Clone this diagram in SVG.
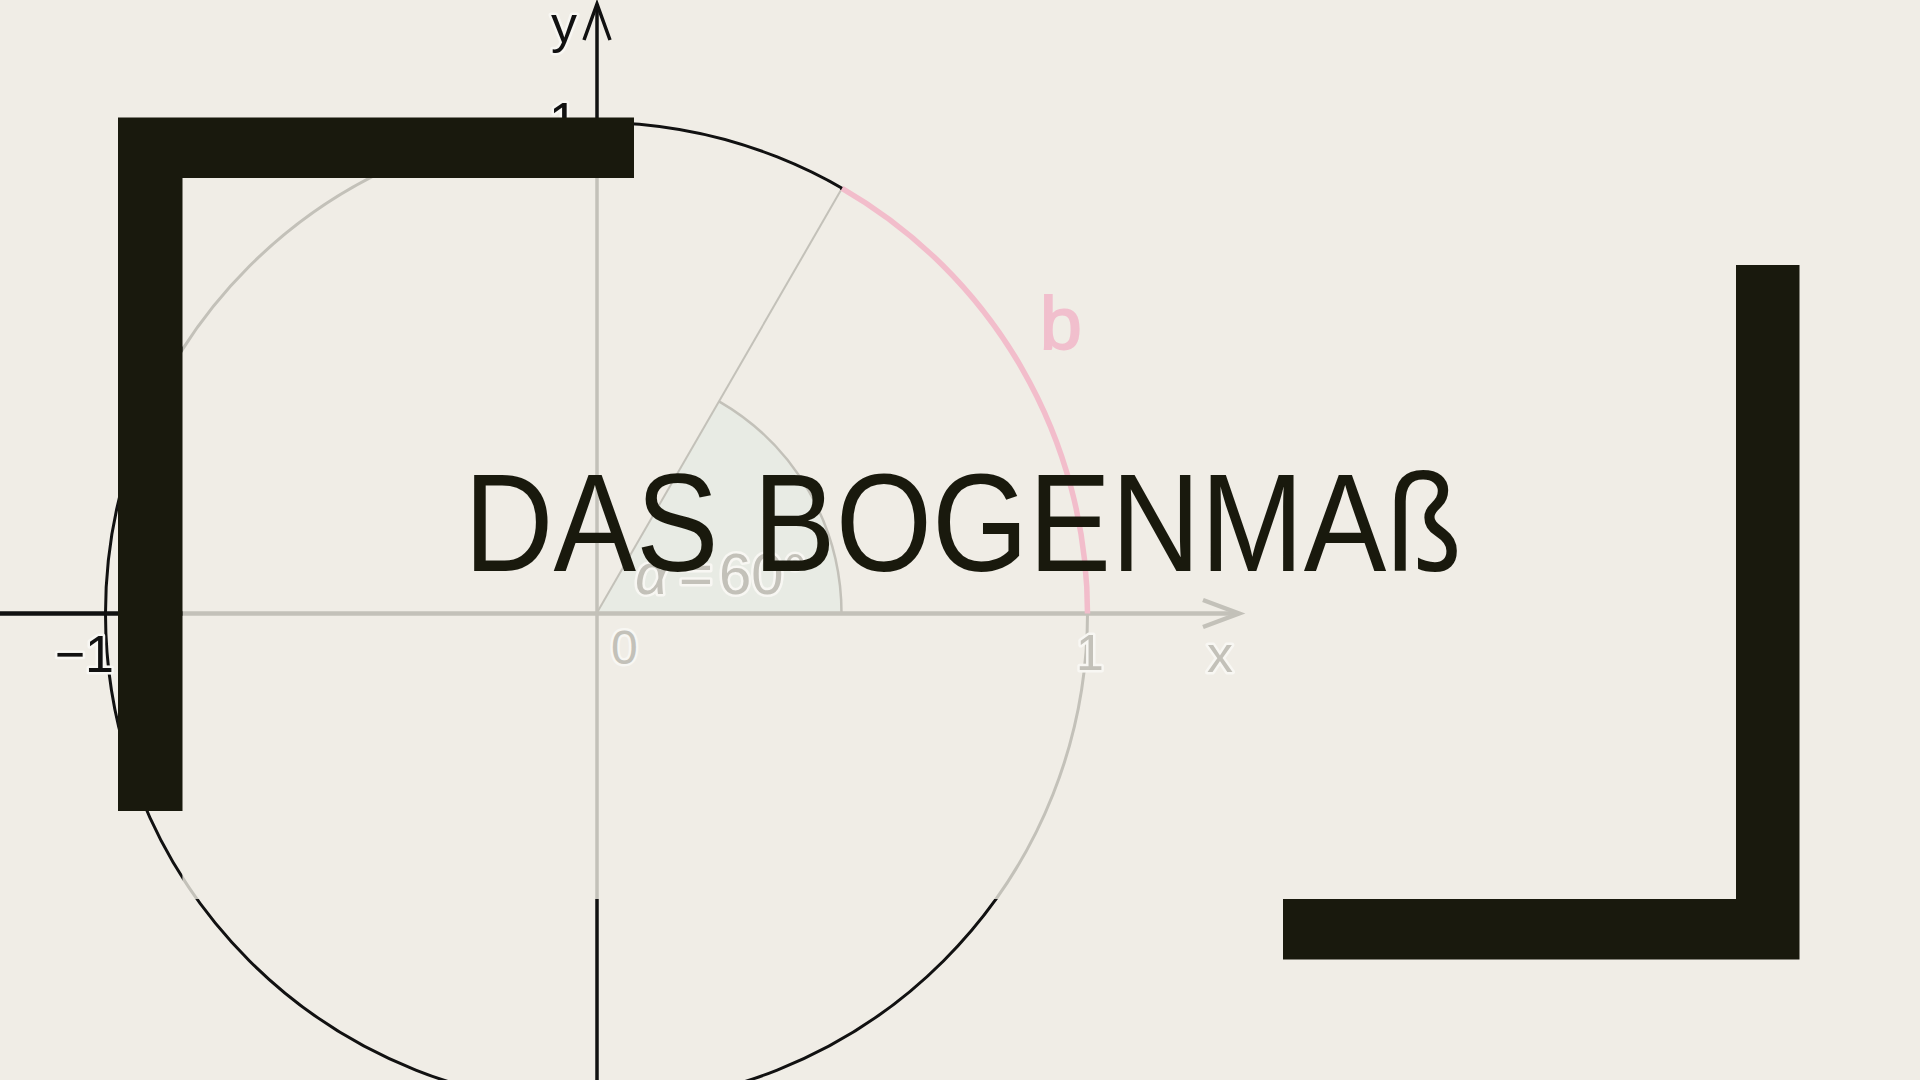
<svg xmlns="http://www.w3.org/2000/svg" xmlns:xlink="http://www.w3.org/1999/xlink" width="1920" height="1080" viewBox="0 0 1920 1080">
  <style>
    .ln { fill: none; stroke: currentColor; stroke-linecap: butt; stroke-linejoin: miter; }
    .lbl { font-family: "Liberation Sans", Arial, sans-serif; fill: currentColor; stroke: #f8f7f3; stroke-width: 5; paint-order: stroke; stroke-linejoin: round; }
    .bracket { fill: #19190d; }
    .title { font-family: "Liberation Sans", Arial, sans-serif; fill: #19190d; }
  </style>
  <defs>
    <clipPath id="outside">
      <path clip-rule="evenodd" d="M0,0 H1920 V1080 H0 Z M182.5,178 H634 V190 H846 V178 H1736 V899 H182.5 Z"/>
    </clipPath>
    <clipPath id="inside">
      <path d="M182.5,178 H634 V190 H846 V178 H1736 V899 H182.5 Z"/>
    </clipPath>
    <g id="diagram">
      <circle class="ln" cx="596.5" cy="613.5" r="491" stroke-width="3"/>
      <line class="ln" x1="596.5" y1="613.5" x2="842" y2="188.3" stroke-width="2"/>
      <path class="ln" d="M841.5,613.5 A245 245 0 0 0 719,401.3" stroke-width="2.5"/>
      <line class="ln" x1="0" y1="613.5" x2="1236" y2="613.5" stroke-width="4.5"/>
      <polyline class="ln" points="1203,600 1239,613.5 1203,627" stroke-width="4.5"/>
      <line class="ln" x1="597" y1="1080" x2="597" y2="4" stroke-width="3.5"/>
      <polyline class="ln" points="584,40 597,4 610,40" stroke-width="3.5"/>
      <text class="lbl" x="551" y="42" font-size="52">y</text>
      <text class="lbl" x="549" y="139" font-size="52">1</text>
      <text class="lbl" x="1207" y="672" font-size="52">x</text>
      <text class="lbl" x="1076" y="670" font-size="50">1</text>
      <text class="lbl" x="611" y="664" font-size="48">0</text>
      <text class="lbl" x="114" y="672" font-size="52" text-anchor="end">−1</text>
      <text class="lbl" y="594" font-size="58"><tspan x="635" font-style="italic">α</tspan><tspan x="679">=</tspan><tspan x="719">60°</tspan></text>
    </g>
  </defs>

  <rect id="background" x="0" y="0" width="1920" height="1080" fill="#f0ede6"/>

  <g id="unit-circle">
    <path id="angle-sector" d="M596.5,613.5 L841.5,613.5 A245 245 0 0 0 719,401.3 Z" fill="#e8ebe4"/>
    <use xlink:href="#diagram" href="#diagram" clip-path="url(#inside)" style="color:#c3c1b9"/>
    <use xlink:href="#diagram" href="#diagram" clip-path="url(#outside)" style="color:#111111"/>
  </g>

  <g id="connectors">
    <path id="arc-b" d="M842,188.3 A491 491 0 0 1 1087.5,613.5" fill="none" stroke="#f2bdcb" stroke-width="5.5"/>
  </g>

  <g id="label-b">
    <text x="1040" y="349" font-family="Liberation Sans, Arial, sans-serif" font-size="75" fill="#f1bfcd" stroke="#f1bfcd" stroke-width="2">b</text>
  </g>

  <g id="bracket-left">
    <path class="bracket" d="M118,117.5 H634 V178 H182.5 V811 H118 Z"/>
  </g>
  <g id="bracket-right">
    <path class="bracket" d="M1736,265 H1799.5 V959.5 H1283 V899 H1736 Z"/>
  </g>

  <g id="title">
    <text class="title" x="963" y="571" font-size="140" text-anchor="middle" textLength="998" lengthAdjust="spacingAndGlyphs">DAS BOGENMAß</text>
  </g>
</svg>
